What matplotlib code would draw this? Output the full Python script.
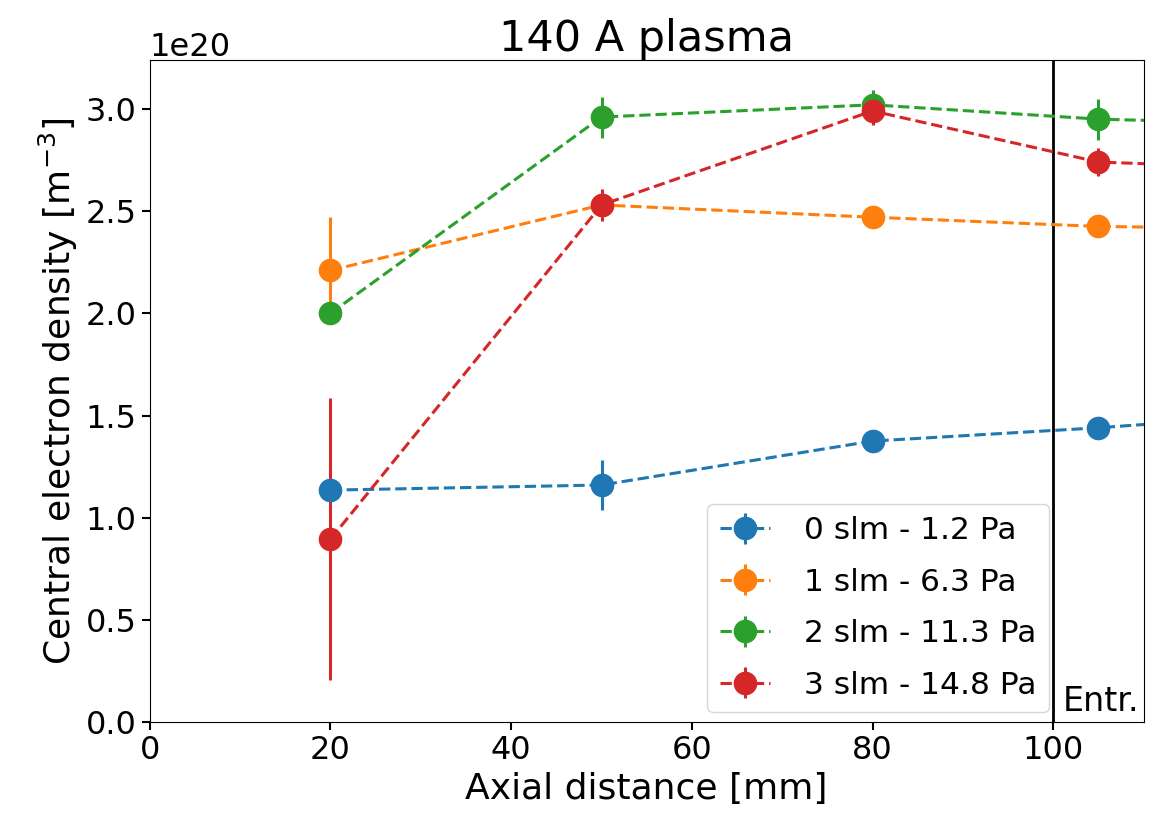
import numpy as np
import matplotlib
matplotlib.use("Agg")
import matplotlib.pyplot as plt

# axial positions [mm]; last point lies outside the plotted window
x = [20, 50, 80, 105, 130]

labels = ["0 slm - 1.2 Pa", "1 slm - 6.3 Pa", "2 slm - 11.3 Pa", "3 slm - 14.8 Pa"]

ne_0slm = [1.135, 1.16, 1.375, 1.44, 1.52]
ne_1slm = [2.21, 2.53, 2.47, 2.425, 2.41]
ne_2slm = [2.00, 2.96, 3.02, 2.95, 2.92]
ne_3slm = [0.895, 2.53, 2.99, 2.74, 2.70]

err_0slm = [0.03, 0.12, 0.03, 0.03, 0.03]
err_1slm = [0.26, 0.05, 0.03, 0.03, 0.03]
err_2slm = [0.03, 0.10, 0.07, 0.10, 0.05]
err_3slm = [0.69, 0.08, 0.07, 0.07, 0.05]

series = [ne_0slm, ne_1slm, ne_2slm, ne_3slm]
errors = [err_0slm, err_1slm, err_2slm, err_3slm]
colors = ["#1f77b4", "#ff7f0e", "#2ca02c", "#d62728"]

fig = plt.figure(figsize=(11.61, 8.31), dpi=100)
ax = fig.add_axes([0.129, 0.131, 0.856, 0.797])

for y, e, c, lab in zip(series, errors, colors, labels):
    ax.errorbar(x, np.array(y) * 1e20, yerr=np.array(e) * 1e20, fmt="o--",
                color=c, ms=16, lw=2.2, elinewidth=2.2, capsize=0, label=lab)

ax.axvline(100, color="black", lw=2)
ax.text(101.1, 0.02e20, "Entr.", fontsize=24, ha="left", va="bottom")

ax.set_xlim(0, 110)
ax.set_ylim(0, 3.24e20)
ax.set_xticks([0, 20, 40, 60, 80, 100])
ax.set_yticks(np.arange(0, 3.01, 0.5) * 1e20)
ax.tick_params(labelsize=23, width=1.5, length=6)
ax.yaxis.get_offset_text().set_fontsize(23)

ax.set_xlabel("Axial distance [mm]", fontsize=26)
ax.set_ylabel("Central electron density [m$^{-3}$]", fontsize=26)
ax.set_title("140 A plasma", fontsize=31)

ax.legend(loc="lower right", bbox_to_anchor=(0.905, 0.015), borderaxespad=0,
          fontsize=22.5, handlelength=1.6, handletextpad=1.1, labelspacing=0.72)

fig.savefig("out.png", dpi=100)
